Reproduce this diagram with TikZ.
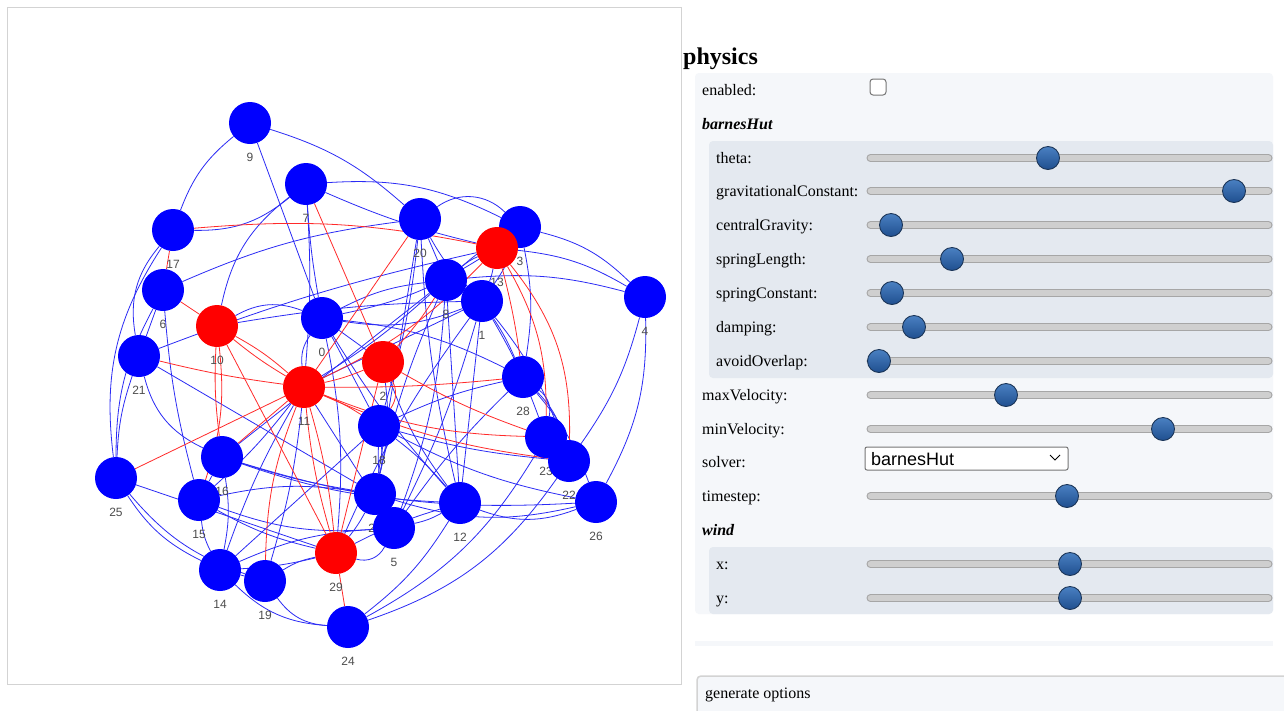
\documentclass[tikz,border=0pt]{standalone}
\usepackage{fontspec}
\setmainfont{Liberation Serif}
\setsansfont{Liberation Sans}
\usepackage{tikz}
\usetikzlibrary{backgrounds,positioning}
\definecolor{noeudbleu}{HTML}{0000FF}
\definecolor{noeudrouge}{HTML}{FF0000}
\definecolor{lienbleu}{HTML}{2B2BF5}
\definecolor{lienrouge}{HTML}{FF2A2A}
\definecolor{grisetiq}{HTML}{4D4D4D}
\definecolor{cadre}{HTML}{D3D3D3}
\definecolor{fondclair}{HTML}{F5F7FA}
\definecolor{fondgroupe}{HTML}{E4E9F0}
\definecolor{rail}{HTML}{CFCFCF}
\definecolor{railbord}{HTML}{A6A6A6}
\definecolor{boutonhaut}{HTML}{4A80C2}
\definecolor{boutonbas}{HTML}{1F4F8F}
\definecolor{boutonbord}{HTML}{1B3558}
\definecolor{champbord}{HTML}{767676}
\newcommand\panfont{\fontsize{16}{19}\selectfont}
\tikzset{
  gnode/.style={circle,minimum size=42pt,inner sep=0pt,draw=none},
  etiq/.style={font=\sffamily\fontsize{12}{14}\selectfont,text=grisetiq,inner sep=0pt},
  bedge/.style={draw=lienbleu,line width=0.8pt},
  redge/.style={draw=lienrouge,line width=0.8pt},
  texte/.style={font=\panfont,anchor=base west,inner sep=0pt},
  track/.style={fill=rail,draw=railbord,line width=0.9pt,rounded corners=3.5pt},
  knob/.style={circle,minimum size=23pt,inner sep=0pt,draw=boutonbord,line width=0.9pt,
               top color=boutonhaut,bottom color=boutonbas},
}

\begin{document}
\begin{tikzpicture}[x=1pt,y=-1pt]
  \useasboundingbox (0,0) rectangle (1284,710);
  % graph nodes
  \foreach \id/\xx/\yy/\cc in {9/250/123/noeudbleu,7/306/184/noeudbleu,17/173/230/noeudbleu,
      20/420/219/noeudbleu,3/520/227/noeudbleu,13/497/248/noeudrouge,6/163/290/noeudbleu,
      8/446/280/noeudbleu,1/482/301/noeudbleu,4/645/297/noeudbleu,10/217/326/noeudrouge,
      0/322/318/noeudbleu,21/139/356/noeudbleu,2/383/362/noeudrouge,11/304/387/noeudrouge,
      28/523/377/noeudbleu,18/379/426/noeudbleu,23/546/437/noeudbleu,22/569/461/noeudbleu,
      16/222/457/noeudbleu,25/116/478/noeudbleu,15/199/500/noeudbleu,27/375/494/noeudbleu,
      12/460/503/noeudbleu,26/596/502/noeudbleu,5/394/528/noeudbleu,29/336/553/noeudrouge,
      14/220/570/noeudbleu,19/265/581/noeudbleu,24/348/627/noeudbleu}
  {
    \node[gnode,fill=\cc] (n\id) at (\xx,\yy) {};
    \node[etiq] (e\id) at (\xx,\yy+34) {\id};
  }
  \begin{scope}[on background layer]
    \fill[white] (0,0) rectangle (1284,710);
    \draw[cadre,line width=1pt] (7,7) rectangle (681,684);
    % blue links
    \foreach \a/\b/\bd in {9/17/-15,9/20/12,9/0/0,7/17/20,7/3/15,7/13/-5,7/0/-3,7/11/4,
        10/7/20,10/0/25,10/1/4,6/20/8,21/17/25,17/25/-20,6/25/-14,6/21/0,6/15/-5,
        21/16/-25,21/27/0,21/25/-8,20/3/40,20/8/0,20/1/-8,20/12/-5,20/18/5,20/27/0,
        3/4/15,13/4/12,3/8/-5,3/1/8,3/28/10,4/8/-10,4/26/15,4/22/10,
        13/8/-8,13/1/5,13/0/10,13/21/-4,8/0/-10,8/11/5,8/16/0,8/27/-5,8/5/8,8/12/0,
        1/28/5,1/23/5,1/22/10,1/12/0,1/0/15,1/29/-6,1/5/5,
        0/18/0,0/12/-5,0/11/-20,0/2/0,0/28/10,0/29/8,
        28/23/30,28/22/15,28/26/10,28/5/-5,28/18/-6,
        18/22/-5,18/26/-8,18/12/6,18/27/10,18/14/0,18/5/-10,
        16/27/-4,16/12/-8,16/26/-10,16/14/10,16/15/0,
        15/29/-8,15/27/10,15/14/-10,15/5/-12,
        27/5/0,27/29/5,27/26/-15,12/26/-20,12/5/8,12/29/-5,12/24/10,
        23/24/15,22/24/18,29/19/-10,29/14/5,29/5/-40,5/14/-10,
        14/19/0,14/24/-20,19/24/-25,25/14/-15,25/19/-15,25/29/0,
        11/14/-5,11/19/5,11/5/0,11/15/5,11/1/0,2/27/10,2/12/-8}
      \draw[bedge] (n\a) to[bend left=\bd] (n\b);
    % red links
    \foreach \a/\b/\bd in {17/13/8,17/6/0,6/10/0,21/11/-3,10/11/6,10/11/-4,10/15/12,
        10/16/-5,10/29/0,7/2/0,20/11/0,13/11/10,13/28/3,13/23/15,13/22/20,2/8/-5,
        2/23/-5,2/11/5,11/28/-3,11/18/5,11/23/-10,11/22/-8,11/25/0,11/16/0,
        11/29/5,11/29/-5,11/19/-10,2/29/0,29/24/0,2/18/30}
      \draw[redge] (n\a) to[bend left=\bd] (n\b);
  \end{scope}

  % physics panel
  \node[font=\fontsize{24}{28}\selectfont\bfseries,anchor=base west,inner sep=0pt] (titre) at (683,64) {physics};
  \fill[fondclair,rounded corners=4pt] (695,73) rectangle (1273,614);
  \fill[fondgroupe,rounded corners=4pt] (709,141) rectangle (1273,378);
  \fill[fondgroupe,rounded corners=4pt] (709,547) rectangle (1273,614);
  \fill[fondclair] (695,641) rectangle (1273,646);
  \node[texte] (enabled) at (702,95) {enabled:};
  \draw[champbord,fill=white,line width=1pt,rounded corners=3pt] (870,79) rectangle (886,95);
  \node[texte,font=\panfont\bfseries\itshape] (barnes) at (702,129) {barnesHut};
  \node[texte] (solver) at (702,467) {solver:};
  \node[texte,font=\panfont\bfseries\itshape] (wind) at (702,535) {wind};
  \foreach \lbl/\yy/\kx/\ind in {theta:/158/1048/716,gravitationalConstant:/191/1234/716,
      centralGravity:/225/891/716,springLength:/259/952/716,springConstant:/293/892/716,
      damping:/327/914/716,avoidOverlap:/361/879/716,maxVelocity:/395/1006/702,
      minVelocity:/429/1163/702,timestep:/496/1067/702,x:/564/1070/716,y:/598/1070/716}
  {
    \node[texte] (l\yy) at (\ind,\yy+5) {\lbl};
    \draw[track] (867,\yy-3.5) rectangle (1272,\yy+3.5);
    \node[knob] (k\yy) at (\kx,\yy) {};
  }
  % solver select
  \draw[champbord,fill=white,line width=1pt,rounded corners=2pt] (865,447) rectangle (1068,470);
  \node[anchor=base west,inner sep=0pt,font=\sffamily\fontsize{18}{21}\selectfont] (choix) at (871,465) {barnesHut};
  \draw[black,line width=0.8pt] (1050,455) -- (1055,460) -- (1060,455);
  % generate options
  \draw[cadre,fill=fondclair,line width=1.5pt,rounded corners=4pt] (697,676) rectangle (1295,725);
  \node[texte] (gen) at (705,698) {generate options};
\end{tikzpicture}
\end{document}
